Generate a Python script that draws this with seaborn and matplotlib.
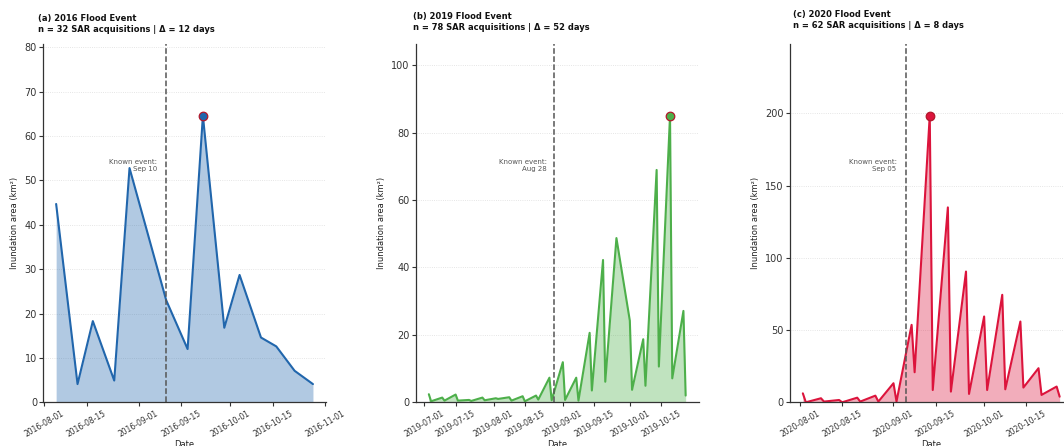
import seaborn as sns
import matplotlib.pyplot as plt
import matplotlib.dates as mdates
import pandas as pd

# 2016 event
dates_2016 = ["2016-08-05", "2016-08-12", "2016-08-17", "2016-08-24", "2016-08-29", "2016-09-10",
              "2016-09-17", "2016-09-22", "2016-09-29", "2016-10-04", "2016-10-11", "2016-10-16",
              "2016-10-22", "2016-10-28"]
area_2016 = [44.7, 4.1, 18.3, 4.9, 52.8, 23.0, 12.0, 64.6, 16.8, 28.7, 14.6, 12.6, 7.1, 4.1]

# 2019 event
dates_2019 = ["2019-07-03", "2019-07-04", "2019-07-09", "2019-07-10", "2019-07-15", "2019-07-16",
              "2019-07-21", "2019-07-22", "2019-07-27", "2019-07-28", "2019-08-02", "2019-08-03",
              "2019-08-08", "2019-08-09", "2019-08-14", "2019-08-15", "2019-08-20", "2019-08-21",
              "2019-08-26", "2019-08-27", "2019-09-01", "2019-09-02", "2019-09-07", "2019-09-08",
              "2019-09-13", "2019-09-14", "2019-09-19", "2019-09-20", "2019-09-25", "2019-10-01",
              "2019-10-02", "2019-10-07", "2019-10-08", "2019-10-13", "2019-10-14", "2019-10-19",
              "2019-10-20", "2019-10-25", "2019-10-26"]
area_2019 = [2.4, 0.3, 1.4, 0.5, 2.3, 0.5, 0.7, 0.4, 1.4, 0.6, 1.2, 1.0, 1.5, 0.5, 1.8, 0.3,
             2.0, 0.8, 7.3, 0.6, 11.9, 0.7, 7.3, 0.5, 20.6, 3.5, 42.2, 6.1, 48.7, 24.2, 3.7,
             18.7, 4.9, 68.9, 10.6, 85.0, 7.1, 27.1, 2.0]

# 2020 event
dates_2020 = ["2020-08-02", "2020-08-03", "2020-08-08", "2020-08-09", "2020-08-14", "2020-08-15",
              "2020-08-20", "2020-08-21", "2020-08-26", "2020-08-27", "2020-09-01", "2020-09-02",
              "2020-09-07", "2020-09-08", "2020-09-13", "2020-09-14", "2020-09-19", "2020-09-20",
              "2020-09-25", "2020-09-26", "2020-10-01", "2020-10-02", "2020-10-07", "2020-10-08",
              "2020-10-13", "2020-10-14", "2020-10-19", "2020-10-20", "2020-10-25", "2020-10-26"]
area_2020 = [6.2, 0.0, 2.8, 0.5, 1.6, 0.0, 3.2, 0.5, 4.6, 0.5, 13.2, 0.5, 53.6, 20.8, 198.4,
             8.5, 134.9, 7.4, 90.5, 5.8, 59.4, 8.5, 74.4, 9.0, 55.9, 10.2, 23.6, 5.1, 10.9, 3.9]

titles = ["(a) 2016 Flood Event\nn = 32 SAR acquisitions | \u0394 = 12 days",
          "(b) 2019 Flood Event\nn = 78 SAR acquisitions | \u0394 = 52 days",
          "(c) 2020 Flood Event\nn = 62 SAR acquisitions | \u0394 = 8 days"]
known_dates = ["2016-09-10", "2019-08-28", "2020-09-05"]
known_labels = ["Sep 10", "Aug 28", "Sep 05"]
colors = ["#2166ac", "#4daf4a", "#dc143c"]

sns.set_style("ticks")
plt.rcParams["font.family"] = ["DejaVu Sans"]

W, H = 1064, 446
fig = plt.figure(figsize=(W / 100, H / 100), dpi=100)

ax_left = [43.3, 416, 790]
title_pos = [(38, 14.5), (413, 12.5), (793, 10.5)]
series = [(dates_2016, area_2016), (dates_2019, area_2019), (dates_2020, area_2020)]

for i, (d, a) in enumerate(series):
    df = pd.DataFrame({"date": pd.to_datetime(d), "area": a})
    ax = fig.add_axes([ax_left[i] / W, 1 - 402.3 / H, 282.5 / W, 358.3 / H])
    c = colors[i]
    ax.fill_between(df["date"], 0, df["area"], color=c, alpha=0.35, linewidth=0)
    sns.lineplot(data=df, x="date", y="area", ax=ax, color=c, linewidth=1.5)
    peak = df.loc[df["area"].idxmax()]
    ax.scatter([peak["date"]], [peak["area"]], s=38, color=c, edgecolor="#b2182b",
               linewidth=0.9, zorder=5)
    ev = pd.Timestamp(known_dates[i])
    ax.axvline(ev, color="#555555", linestyle="--", linewidth=1.1)
    ax.text(ev - pd.Timedelta(days=3), df["area"].max() * 1.25 * 0.66,
            "Known event:\n" + known_labels[i], ha="right", va="center",
            fontsize=5, color="#555555", multialignment="right")
    ax.set_ylim(0, df["area"].max() * 1.25)
    ax.xaxis.set_major_locator(mdates.DayLocator(bymonthday=[1, 15]))
    ax.xaxis.set_major_formatter(mdates.DateFormatter("%Y-%m-%d"))
    ax.yaxis.grid(True, linestyle=":", color="#dddddd", linewidth=0.6)
    ax.xaxis.grid(False)
    ax.tick_params(axis="y", labelsize=7, length=3, width=0.8, colors="#333333", pad=1.5)
    ax.tick_params(axis="x", labelsize=5.5, length=3, width=0.8, colors="#333333", pad=2)
    plt.setp(ax.get_xticklabels(), rotation=30, ha="center")
    ax.set_xlabel("Date", fontsize=6, color="#222222", labelpad=0.5)
    ax.set_ylabel("Inundation area (km\u00b2)", fontsize=6, color="#222222", labelpad=4)
    for s in ["left", "bottom"]:
        ax.spines[s].set_color("#333333")
        ax.spines[s].set_linewidth(0.9)
    sns.despine(ax=ax)
    fig.text(title_pos[i][0] / W, 1 - title_pos[i][1] / H, titles[i], ha="left", va="top",
             fontsize=6, fontweight="bold", color="#111111")

fig.savefig("out.png", dpi=100)
